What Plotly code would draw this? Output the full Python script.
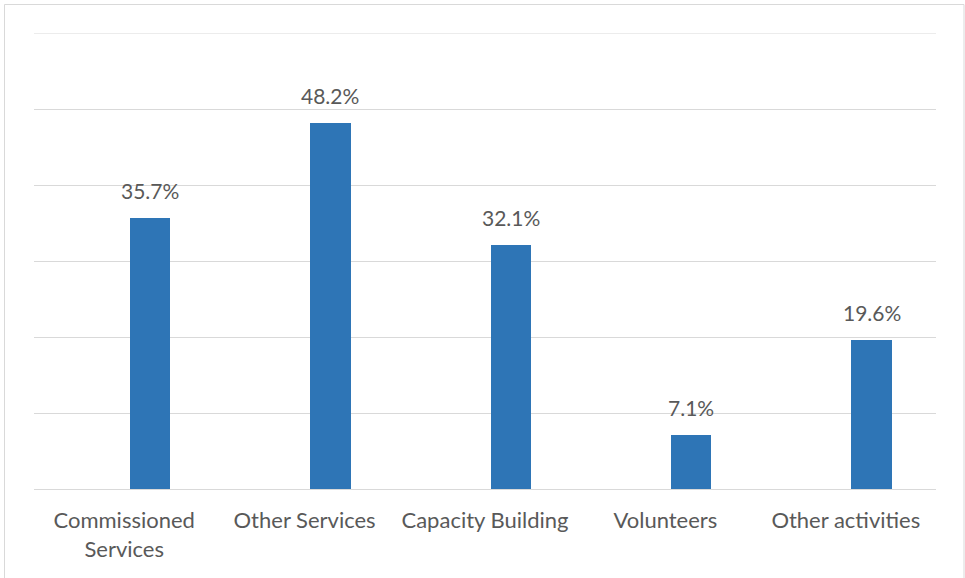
import plotly.graph_objects as go

categories = ["Commissioned<br>Services", "Other Services", "Capacity Building", "Volunteers", "Other activities"]
shares = [35.7, 48.2, 32.1, 7.1, 19.6]
y_ticks = [0, 10, 20, 30, 40, 50, 60]

BAR_COLOR = "#2e75b6"
TEXT_COLOR = "#595959"
GRID_COLOR = "#d9d9d9"
FONT = "Lato, Open Sans, sans-serif"
TICK_SIZE = 22
LABEL_SIZE = 21

W, H = 965, 578
ML, MR, MT, MB = 34, 29, 33, 89
plot_w = W - ML - MR
plot_h = H - MT - MB

bar_width = 0.2245
bar_offset = 0.031
fig = go.Figure(
    go.Bar(
        x=categories,
        y=shares,
        width=bar_width,
        offset=bar_offset,
        marker=dict(color=BAR_COLOR, line=dict(width=0)),
        hoverinfo="skip",
    )
)

# value labels above each bar
shift_px = (bar_offset + bar_width / 2) * plot_w / 5
for cat, v in zip(categories, shares):
    fig.add_annotation(
        x=cat, y=v, text=f"{v:.1f}%", showarrow=False,
        xanchor="center", yanchor="bottom", xshift=shift_px, yshift=13,
        font=dict(family=FONT, size=LABEL_SIZE, color=TEXT_COLOR),
    )

# gridline at the top of the value axis (plotly skips it at the range edge)
fig.add_shape(
    type="line", xref="paper", yref="y", x0=0, x1=1,
    y0=y_ticks[-1], y1=y_ticks[-1],
    line=dict(color=GRID_COLOR, width=1), layer="below",
)

# outer chart border (pixel position converted to paper units)
def px_x(p):
    return (p - ML) / plot_w

def px_y(p):
    return (H - MB - p) / plot_h

fig.add_shape(
    type="rect", xref="paper", yref="paper",
    x0=px_x(4.5), x1=px_x(964), y0=px_y(H + 3), y1=px_y(4.5),
    line=dict(color=GRID_COLOR, width=1), fillcolor="rgba(0,0,0,0)", layer="below",
)

fig.update_layout(
    width=W, height=H,
    margin=dict(l=ML, r=MR, t=MT, b=MB, pad=0),
    paper_bgcolor="white", plot_bgcolor="white",
    showlegend=False,
    font=dict(family=FONT, size=TICK_SIZE, color=TEXT_COLOR),
    bargap=0,
)
fig.update_xaxes(
    type="category", range=[-0.5, 4.5], showgrid=False, showline=False,
    ticks="", ticklabelstandoff=16,
    tickfont=dict(family=FONT, size=TICK_SIZE, color=TEXT_COLOR),
)
fig.update_yaxes(
    range=[0, 60], tickvals=y_ticks, showticklabels=False,
    showgrid=True, gridcolor=GRID_COLOR, gridwidth=1,
    zeroline=True, zerolinecolor=GRID_COLOR, zerolinewidth=1, showline=False,
)

fig.write_html("out.html")
